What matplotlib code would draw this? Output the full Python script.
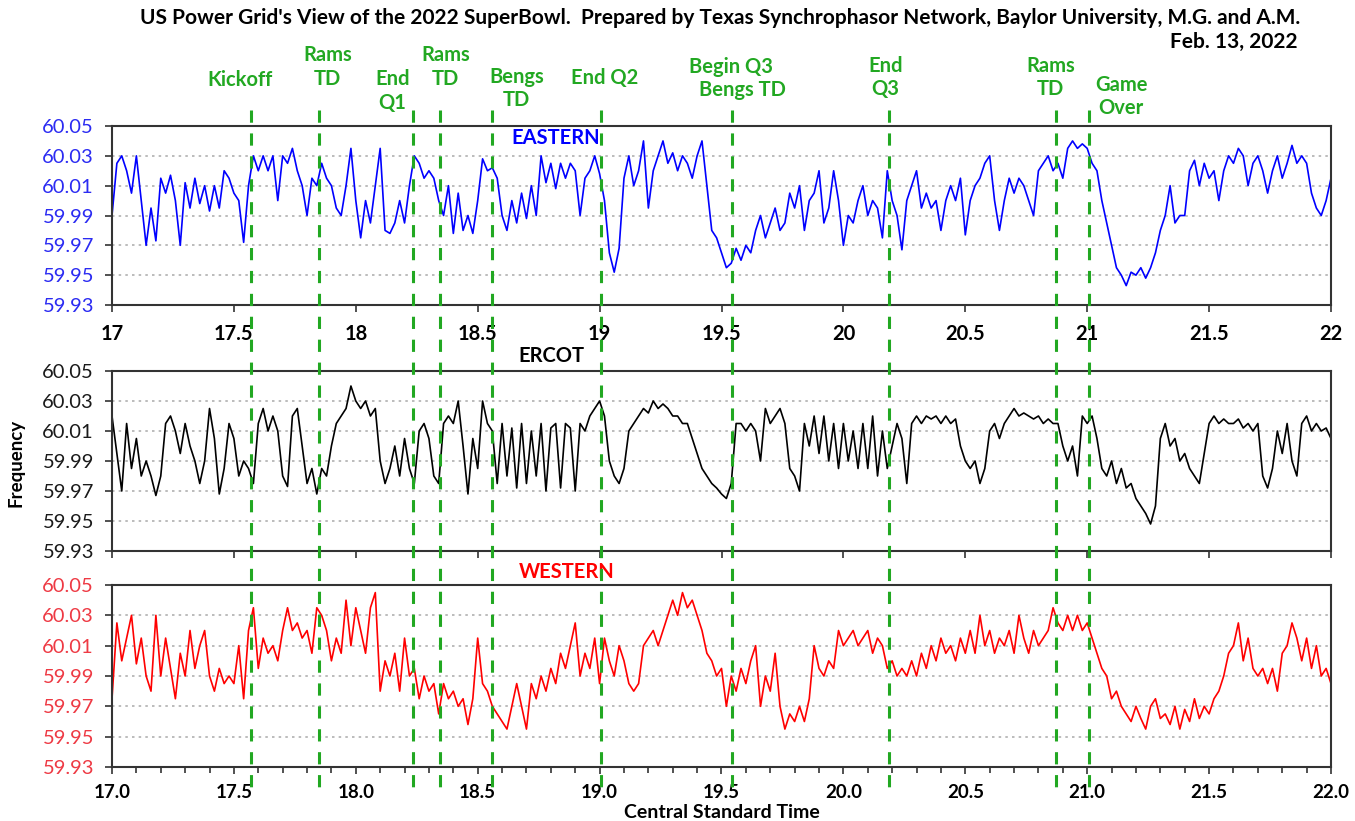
import numpy as np
import matplotlib
matplotlib.use("Agg")
import matplotlib.pyplot as plt
import matplotlib.transforms as mtransforms

plt.rcParams['font.family'] = ['Lato', 'DejaVu Sans']

# time axis: one sample every 0.02 h (Central Standard Time, hours)
hours = np.round(np.arange(17.0, 22.0001, 0.02), 2)

eastern = [
    59.99, 60.025, 60.03, 60.02, 60.005, 60.03, 60.0, 59.97, 59.995, 59.973,
    60.015, 60.005, 60.017, 60.0, 59.97, 60.012, 59.995, 60.015, 59.998, 60.01,
    59.993, 60.01, 59.995, 60.02, 60.015,
    60.005, 60.0, 59.972, 60.01, 60.03, 60.02, 60.03, 60.02, 60.03, 60.0,
    60.03, 60.025, 60.035, 60.02, 60.01, 59.99, 60.015, 60.01, 60.025, 60.015,
    60.01, 59.995, 59.99, 60.01, 60.035,
    60.0, 59.975, 60.0, 59.985, 60.01, 60.035, 59.98, 59.978, 59.985, 60.0,
    59.985, 60.01, 60.03, 60.025, 60.015, 60.02, 60.015, 60.0, 59.99, 60.01,
    59.978, 60.005, 59.98, 59.99, 59.978,
    60.0, 60.028, 60.02, 60.022, 60.015, 59.99, 59.98, 60.0, 59.985, 60.005,
    59.988, 60.01, 59.99, 60.03, 60.012, 60.025, 60.008, 60.025, 60.015, 60.025,
    60.02, 59.99, 60.015, 60.02, 60.03,
    60.018, 60.0, 59.965, 59.952, 59.968, 60.015, 60.03, 60.01, 60.02, 60.04,
    59.995, 60.02, 60.03, 60.04, 60.025, 60.032, 60.02, 60.03, 60.025, 60.015,
    60.03, 60.04, 60.01, 59.98, 59.975,
    59.965, 59.955, 59.958, 59.968, 59.96, 59.97, 59.965, 59.98, 59.99, 59.975,
    59.985, 59.995, 59.98, 59.985, 60.005, 59.995, 60.01, 59.98, 60.0, 60.005,
    60.02, 59.985, 59.995, 60.02, 60.0,
    59.97, 59.99, 59.985, 60.0, 60.01, 59.99, 60.0, 59.995, 59.975, 60.02,
    60.0, 59.99, 59.967, 60.0, 60.01, 60.02, 59.995, 60.005, 59.995, 60.0,
    59.98, 60.0, 60.01, 60.0, 60.015,
    59.977, 60.0, 60.01, 60.015, 60.025, 60.03, 60.0, 59.98, 60.0, 60.015,
    60.005, 60.015, 60.01, 60.0, 59.99, 60.02, 60.025, 60.03, 60.02, 60.025,
    60.015, 60.035, 60.04, 60.035, 60.038,
    60.035, 60.025, 60.02, 60.0, 59.985, 59.97, 59.955, 59.95, 59.943, 59.952,
    59.95, 59.955, 59.948, 59.955, 59.965, 59.98, 59.99, 60.01, 59.985, 59.99,
    59.99, 60.02, 60.027, 60.01, 60.025,
    60.015, 60.02, 60.0, 60.02, 60.03, 60.025, 60.035, 60.03, 60.01, 60.025,
    60.03, 60.02, 60.005, 60.02, 60.03, 60.015, 60.025, 60.037, 60.025, 60.03,
    60.025, 60.005, 59.995, 59.99, 60.0, 60.015,
]

ercot = [
    60.02, 59.995, 59.97, 60.015, 59.985, 60.005, 59.98, 59.99, 59.98, 59.967,
    59.98, 60.015, 60.02, 60.01, 59.995, 60.015, 60.0, 59.99, 59.975, 59.99,
    60.025, 60.005, 59.968, 59.985, 60.015,
    60.005, 59.98, 59.99, 59.985, 59.975, 60.015, 60.025, 60.01, 60.02, 60.01,
    59.98, 59.973, 60.02, 60.025, 60.0, 59.975, 59.985, 59.968, 59.985, 59.98,
    60.0, 60.015, 60.02, 60.025, 60.04,
    60.03, 60.025, 60.03, 60.02, 60.025, 59.99, 59.975, 59.985, 60.0, 59.98,
    60.005, 59.985, 59.975, 60.01, 60.015, 60.005, 59.98, 59.975, 60.015, 60.02,
    60.015, 60.03, 60.0, 59.968, 60.005,
    59.985, 60.03, 60.015, 60.01, 59.975, 60.015, 59.98, 60.012, 59.972, 60.015,
    59.975, 60.01, 59.98, 60.015, 59.97, 60.012, 60.015, 59.972, 60.015, 60.012,
    59.97, 60.015, 60.01, 60.02, 60.025,
    60.03, 60.02, 59.99, 59.98, 59.975, 59.985, 60.01, 60.015, 60.02, 60.025,
    60.022, 60.03, 60.025, 60.028, 60.025, 60.02, 60.02, 60.015, 60.015, 60.005,
    59.995, 59.985, 59.98, 59.975, 59.972,
    59.968, 59.965, 59.975, 60.015, 60.015, 60.01, 60.015, 60.01, 59.99, 60.025,
    60.015, 60.02, 60.025, 60.015, 59.985, 59.98, 59.97, 60.015, 60.0, 60.02,
    59.995, 60.02, 59.99, 60.015, 59.985,
    60.015, 59.99, 60.01, 59.985, 60.015, 59.985, 60.02, 59.98, 60.01, 59.985,
    60.0, 60.015, 60.005, 59.975, 60.015, 60.02, 60.015, 60.02, 60.018, 60.02,
    60.015, 60.02, 60.015, 60.018, 60.0,
    59.99, 59.985, 59.99, 59.975, 59.985, 60.01, 60.015, 60.005, 60.015, 60.02,
    60.025, 60.02, 60.022, 60.02, 60.018, 60.02, 60.015, 60.018, 60.015, 60.015,
    60.0, 59.99, 60.0, 59.98, 60.02,
    60.015, 60.02, 60.005, 59.985, 59.98, 59.99, 59.975, 59.985, 59.972, 59.975,
    59.965, 59.96, 59.955, 59.948, 59.96, 60.005, 60.015, 60.0, 60.005, 59.99,
    59.995, 59.985, 59.98, 59.975, 59.995,
    60.015, 60.02, 60.015, 60.018, 60.015, 60.015, 60.018, 60.012, 60.015, 60.01,
    60.015, 59.98, 59.972, 59.985, 60.01, 59.995, 60.015, 59.99, 59.98, 60.015,
    60.02, 60.01, 60.015, 60.01, 60.012, 60.005,
]

western = [
    59.975, 60.025, 60.0, 60.015, 60.03, 59.998, 60.015, 59.99, 59.98, 60.03,
    59.99, 60.015, 59.995, 59.975, 60.005, 59.99, 60.02, 59.995, 60.01, 60.02,
    59.99, 59.98, 59.995, 59.985, 59.99,
    59.985, 60.01, 59.975, 60.02, 60.035, 59.995, 60.015, 60.005, 60.01, 60.0,
    60.02, 60.035, 60.02, 60.025, 60.015, 60.02, 60.005, 60.035, 60.03, 60.02,
    60.0, 60.015, 60.005, 60.04, 60.01,
    60.035, 60.02, 60.005, 60.035, 60.045, 59.98, 60.0, 59.99, 60.005, 59.98,
    60.015, 59.99, 59.995, 59.975, 59.99, 59.98, 59.985, 59.965, 59.985, 59.975,
    59.98, 59.97, 59.975, 59.958, 59.975,
    60.015, 59.985, 59.98, 59.97, 59.965, 59.96, 59.955, 59.97, 59.985, 59.97,
    59.955, 59.985, 59.975, 59.99, 59.98, 59.995, 59.985, 60.005, 59.995, 60.01,
    60.025, 59.99, 60.005, 59.995, 60.015,
    59.985, 60.015, 60.0, 59.99, 60.01, 60.0, 59.985, 59.98, 59.985, 60.01,
    60.015, 60.02, 60.01, 60.02, 60.03, 60.04, 60.03, 60.045, 60.035, 60.04,
    60.03, 60.02, 60.005, 60.0, 59.99,
    59.995, 59.97, 59.99, 59.98, 59.995, 59.985, 60.0, 60.01, 59.97, 59.99,
    59.98, 60.005, 59.97, 59.955, 59.965, 59.96, 59.97, 59.96, 59.975, 60.01,
    59.995, 59.99, 60.0, 59.995, 60.02,
    60.01, 60.015, 60.02, 60.01, 60.015, 60.02, 60.005, 60.015, 60.01, 59.995,
    60.0, 59.99, 59.995, 59.99, 60.0, 59.99, 60.005, 59.995, 60.01, 60.0,
    60.015, 60.005, 60.01, 60.0, 60.015,
    60.005, 60.02, 60.005, 60.03, 60.01, 60.02, 60.005, 60.015, 60.01, 60.02,
    60.005, 60.03, 60.015, 60.005, 60.02, 60.01, 60.015, 60.02, 60.035, 60.025,
    60.02, 60.03, 60.02, 60.03, 60.02,
    60.025, 60.015, 60.005, 59.995, 59.99, 59.975, 59.98, 59.97, 59.965, 59.96,
    59.97, 59.962, 59.955, 59.97, 59.975, 59.962, 59.965, 59.958, 59.97, 59.955,
    59.968, 59.96, 59.975, 59.962, 59.97,
    59.965, 59.975, 59.98, 59.99, 60.005, 60.01, 60.025, 60.0, 60.015, 59.995,
    59.99, 59.995, 59.985, 59.995, 59.98, 60.005, 60.01, 60.025, 60.015, 60.0,
    60.015, 59.995, 60.01, 59.99, 59.995, 59.985,
]

# game events (hour of the dashed line)
event_hours = [17.569, 17.85, 18.235, 18.345, 18.557, 19.005, 19.542, 20.186, 20.872, 21.008]

y_ticks = [59.93, 59.95, 59.97, 59.99, 60.01, 60.03, 60.05]
x_ticks = [17.0, 17.5, 18.0, 18.5, 19.0, 19.5, 20.0, 20.5, 21.0, 21.5, 22.0]

W, H = 1355, 821
fig = plt.figure(figsize=(W / 100, H / 100), dpi=100)

def px_box(left, top, right, bottom):
    return [left / W, 1 - bottom / H, (right - left) / W, (bottom - top) / H]

ax1 = fig.add_axes(px_box(112, 126, 1331, 305))
ax2 = fig.add_axes(px_box(112, 371, 1331, 551))
ax3 = fig.add_axes(px_box(112, 585, 1331, 767))

green = '#22a822'
panels = [
    (ax1, eastern, '#0000ff', '#2b2bf2'),
    (ax2, ercot, '#000000', '#1a1a1a'),
    (ax3, western, '#ff0000', '#ee3a44'),
]
for ax, vals, col, tcol in panels:
    ax.plot(hours, vals, color=col, lw=1.2)
    ax.set_xlim(17, 22)
    ax.set_ylim(59.93, 60.05)
    ax.set_yticks(y_ticks)
    ax.set_yticklabels([f"{v:.2f}" for v in y_ticks], color=tcol, fontsize=14.5)
    for g in y_ticks[1:-1]:
        ax.axhline(g, color='#b0b0b0', lw=1.2, ls=(0, (1.5, 2.5)), zorder=0)
    for s in ax.spines.values():
        s.set_color('#333333')
        s.set_linewidth(1.5)
    ax.set_xticks(x_ticks)
    ax.tick_params(axis='both', direction='out', length=5, width=1.2, color='#333333')
    ax.tick_params(axis='y', pad=8)

ax1.set_xticklabels(['17', '17.5', '18', '18.5', '19', '19.5', '20', '20.5', '21', '21.5', '22'],
                    fontsize=14.5, fontweight='bold')
ax1.tick_params(axis='x', pad=9)
ax2.set_xticklabels([])
ax3.set_xticks(np.arange(17.0, 22.01, 0.1), minor=True)
ax3.tick_params(axis='x', which='minor', direction='out', length=4, width=1.2, color='#333333')
ax3.set_xticklabels([f"{v:.1f}" for v in x_ticks], fontsize=13.5, fontweight='bold')
ax3.tick_params(axis='x', pad=7)

# panel names
fig.text(556 / W, 1 - 138 / H, 'EASTERN', color='#0000ff', fontsize=14.5, fontweight='bold', ha='center', va='center')
fig.text(551 / W, 1 - 356 / H, 'ERCOT', color='black', fontsize=14.5, fontweight='bold', ha='center', va='center')
fig.text(567 / W, 1 - 572 / H, 'WESTERN', color='#ff0000', fontsize=14.5, fontweight='bold', ha='center', va='center')

fig.text(16 / W, 1 - 463 / H, 'Frequency', rotation=90, fontsize=13.5, fontweight='bold', ha='center', va='center')
fig.text(722 / W, 1 - 812 / H, 'Central Standard Time', fontsize=14, fontweight='bold', ha='center', va='center')

fig.text(720 / W, 1 - 18 / H,
         "US Power Grid's View of the 2022 SuperBowl.  Prepared by Texas Synchrophasor Network, Baylor University, M.G. and A.M.",
         fontsize=15, fontweight='bold', ha='center', va='center')
fig.text(1298 / W, 1 - 42 / H, 'Feb. 13, 2022', fontsize=15, fontweight='bold', ha='right', va='center')

# dashed event lines running through all three panels
trans = mtransforms.blended_transform_factory(ax3.transData, fig.transFigure)
for h in event_hours:
    fig.add_artist(plt.Line2D([h, h], [1 - 110 / H, 1 - 792 / H], transform=trans,
                              color=green, lw=2.2, ls=(0, (4, 3.5)), zorder=5))

# event labels: (hour of text centre, pixel row of text centre, text)
event_labels = [
    (17.524, 80, 'Kickoff'),
    (17.885, 55, 'Rams'), (17.885, 79, 'TD'),
    (18.15, 79, 'End'), (18.15, 103, 'Q1'),
    (18.369, 55, 'Rams'), (18.369, 79, 'TD'),
    (18.66, 77, 'Bengs'), (18.66, 100, 'TD'),
    (19.022, 78, 'End Q2'),
    (19.537, 67, 'Begin Q3'), (19.586, 90, 'Bengs TD'),
    (20.173, 66, 'End'), (20.173, 89, 'Q3'),
    (20.849, 66, 'Rams'), (20.849, 89, 'TD'),
    (21.14, 85, 'Game'), (21.14, 108, 'Over'),
]
for h, row, s in event_labels:
    fig.text(h, 1 - row / H, s, transform=trans, color=green, fontsize=14.5,
             fontweight='bold', ha='center', va='center')

fig.savefig('out.png', dpi=100)
